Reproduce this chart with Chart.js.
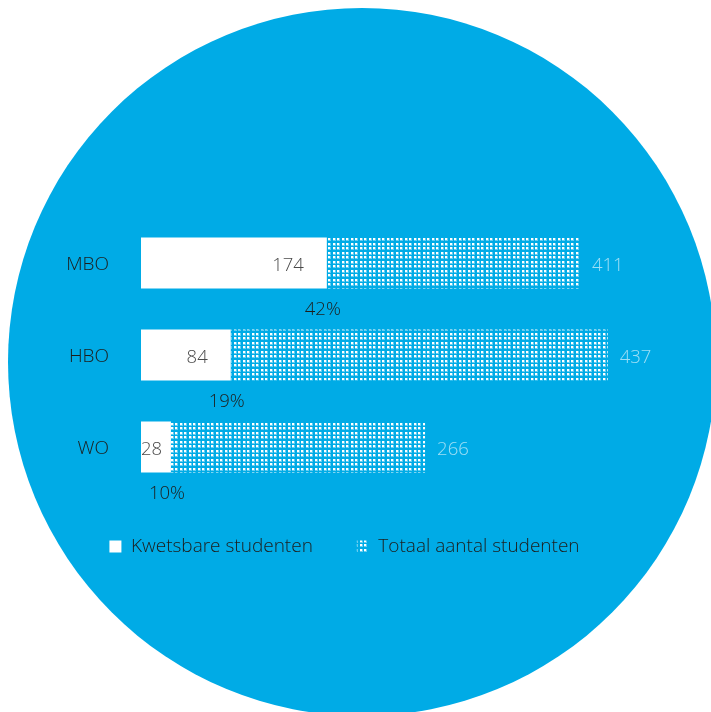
<!DOCTYPE html>
<html><head><meta charset="utf-8">
<script src="https://cdn.jsdelivr.net/npm/chart.js@4.4.1/dist/chart.umd.min.js"></script>
<style>html,body{margin:0;padding:0;background:#fff;overflow:hidden}#wrap{width:711px;height:712px;position:relative}</style>
</head><body><div id="wrap"><canvas id="c"></canvas></div>
<script>
const categories = ['MBO', 'HBO', 'WO'];
const vulnerable = [174, 84, 28];
const totals = [411, 437, 266];
const percentages = ['42%', '19%', '10%'];
const seriesNames = ['Kwetsbare studenten', 'Totaal aantal studenten'];
const xMax = 500;

const FONT = '"Open Sans", "Noto Sans", sans-serif';
const BLUE = '#00ABE6';

function makeDots() {
  const c = document.createElement('canvas');
  c.width = 9; c.height = 9;
  const g = c.getContext('2d');
  [[0, 0], [4, 0], [0, 4], [4, 4]].forEach(([x, y]) => {
    g.fillStyle = 'rgba(255,255,255,0.4)';
    g.fillRect(x, y, 3, 3);
    g.fillStyle = '#ffffff';
    g.fillRect(x, y, 2, 2);
  });
  return document.getElementById('c').getContext('2d').createPattern(c, 'repeat');
}
const dots = makeDots();

const bgCircle = {
  id: 'bgCircle',
  beforeDraw(chart) {
    const ctx = chart.ctx;
    ctx.save();
    ctx.fillStyle = BLUE;
    ctx.beginPath();
    ctx.arc(362, 362, 354, 0, Math.PI * 2);
    ctx.fill();
    ctx.restore();
  }
};

const barLabels = {
  id: 'barLabels',
  afterDatasetsDraw(chart) {
    const ctx = chart.ctx;
    const m0 = chart.getDatasetMeta(0), m1 = chart.getDatasetMeta(1);
    ctx.save();
    ctx.font = '300 18.5px ' + FONT;
    ctx.textBaseline = 'middle';
    m0.data.forEach((bar, i) => {
      const txt = String(vulnerable[i]);
      const w = ctx.measureText(txt).width;
      const right = Math.max(bar.base + w, bar.x - 23);
      ctx.fillStyle = '#4a4a4a';
      ctx.textAlign = 'right';
      ctx.fillText(txt, right, bar.y + 3);
      ctx.fillStyle = '#1d1d1b';
      ctx.textAlign = 'center';
      ctx.fillText(percentages[i], bar.x - 4, bar.y + bar.height / 2 + 21);
    });
    m1.data.forEach((bar, i) => {
      ctx.fillStyle = 'rgba(255,255,255,0.62)';
      ctx.textAlign = 'left';
      ctx.fillText(String(totals[i]), bar.x + 12, bar.y + 3);
    });
    ctx.restore();
  }
};

new Chart(document.getElementById('c'), {
  type: 'bar',
  data: {
    labels: categories,
    datasets: [
      { label: seriesNames[0], data: vulnerable, backgroundColor: '#ffffff', borderWidth: 0 },
      { label: seriesNames[1], data: totals.map((t, i) => t - vulnerable[i]), backgroundColor: dots, borderWidth: 0 }
    ]
  },
  options: {
    indexAxis: 'y',
    responsive: true,
    maintainAspectRatio: false,
    animation: false,
    barPercentage: 0.555,
    categoryPercentage: 1,
    layout: { padding: { left: 14, right: 36, top: 217, bottom: 146 } },
    scales: {
      x: { display: false, stacked: true, min: 0, max: xMax },
      y: {
        stacked: true,
        grid: { display: false, drawTicks: false },
        border: { display: false },
        ticks: { color: '#1d1d1b', font: { family: FONT, size: 19, weight: '300' }, padding: 32, labelOffset: 2 },
        afterFit(s) { s.width = 127; }
      }
    },
    plugins: {
      tooltip: { enabled: false },
      legend: {
        position: 'bottom',
        labels: {
          boxWidth: 12, boxHeight: 12, padding: 44,
          color: '#1d1d1b',
          font: { family: FONT, size: 19, weight: '300' }
        }
      }
    }
  },
  plugins: [bgCircle, barLabels]
});
</script>
</body></html>
